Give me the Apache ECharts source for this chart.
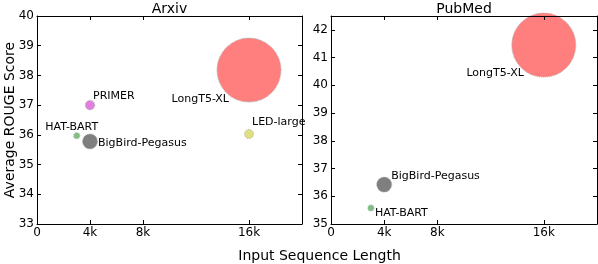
<!DOCTYPE html>
<html><head><meta charset="utf-8">
<script src="https://cdn.jsdelivr.net/npm/echarts@6/dist/echarts.min.js"></script>
<style>html,body{margin:0;padding:0;background:#fff}#c{width:598px;height:264px}</style>
</head><body><div id="c"></div>
<script>
// ---- data ----
const arxivModels = ['LongT5-XL', 'PRIMER', 'HAT-BART', 'BigBird-Pegasus', 'LED-large'];
const arxivLength = [16000, 4000, 3000, 4000, 16000];
const arxivRouge  = [38.18, 37.0, 35.97, 35.78, 36.03];
const arxivBubble = [100, 2.2, 0.9, 5.5, 2.0];

const pubmedModels = ['LongT5-XL', 'BigBird-Pegasus', 'HAT-BART'];
const pubmedLength = [16000, 4000, 3000];
const pubmedRouge  = [41.45, 36.42, 35.58];
const pubmedBubble = [100, 5.5, 0.9];

const xTickValues = [0, 4000, 8000, 16000];
const xTickLabels = ['0', '4k', '8k', '16k'];
const panelTitles = ['Arxiv', 'PubMed'];
const xTitle = 'Input Sequence Length';
const yTitle = 'Average ROUGE Score';

// ---- styles ----
const FONT = 'DejaVu Sans';
const modelColor = {
  'LongT5-XL': '#ff7f7f', 'PRIMER': '#df7fdf', 'HAT-BART': '#7fbf7f',
  'BigBird-Pegasus': '#7f7f7f', 'LED-large': '#dfdf7f'
};
const labelStyleArxiv = {
  'LongT5-XL': {align: 'right', offset: [-20, 29]},
  'PRIMER': {align: 'left', offset: [3, -9]},
  'HAT-BART': {align: 'center', offset: [-5, -9]},
  'BigBird-Pegasus': {align: 'left', offset: [8, 1.5]},
  'LED-large': {align: 'left', offset: [3, -12]}
};
const labelStylePubmed = {
  'LongT5-XL': {align: 'right', offset: [-20, 28]},
  'BigBird-Pegasus': {align: 'left', offset: [7, -8]},
  'HAT-BART': {align: 'left', offset: [4, 5]}
};
const bubbleDiameter = v => 6.4 * Math.sqrt(v);

function buildData(models, xs, ys, bs, lstyle) {
  return models.map((m, i) => ({
    name: m,
    value: [xs[i], ys[i], bs[i]],
    symbolSize: bubbleDiameter(bs[i]),
    itemStyle: {color: modelColor[m], opacity: 1, borderColor: '#b0b0b0', borderWidth: 1, borderType: 'dotted'},
    label: {show: true, formatter: m, position: 'inside', align: lstyle[m].align,
            verticalAlign: 'middle', offset: lstyle[m].offset,
            color: '#000', fontFamily: FONT, fontSize: 11}
  }));
}

const grids = [
  {left: 37, top: 16, width: 265, height: 208},
  {left: 331, top: 16, width: 266, height: 208}
];
const yRanges = [[33, 40], [35, 42.5]];

const xAxes = [], yAxes = [];
grids.forEach((g, gi) => {
  ['bottom', 'top'].forEach(pos => {
    xAxes.push({
      type: 'value', gridIndex: gi, position: pos, min: 0, max: 20000, interval: 4000, z: 5,
      axisLine: {show: true, onZero: false, lineStyle: {color: '#000', width: 1}},
      axisTick: {show: true, inside: true, length: 4, customValues: xTickValues, lineStyle: {color: '#000'}},
      axisLabel: pos === 'bottom' ? {show: true, customValues: xTickValues, margin: 3,
        formatter: v => xTickLabels[xTickValues.indexOf(v)] || '',
        color: '#000', fontFamily: FONT, fontSize: 12} : {show: false},
      splitLine: {show: false}
    });
  });
  ['left', 'right'].forEach(pos => {
    yAxes.push({
      type: 'value', gridIndex: gi, position: pos, min: yRanges[gi][0], max: yRanges[gi][1], interval: 1, z: 5,
      axisLine: {show: true, onZero: false, lineStyle: {color: '#000', width: 1}},
      axisTick: {show: true, inside: true, length: 4, lineStyle: {color: '#000'}},
      axisLabel: pos === 'left' ? {show: true, margin: 3, showMaxLabel: Number.isInteger(yRanges[gi][1]),
        formatter: v => Number.isInteger(v) ? String(v) : '',
        color: '#000', fontFamily: FONT, fontSize: 12} : {show: false},
      splitLine: {show: false}
    });
  });
});

const option = {
  animation: false,
  backgroundColor: '#fff',
  title: panelTitles.map((t, i) => ({
    text: t, left: grids[i].left + grids[i].width / 2, top: 2, textAlign: 'center', padding: 0,
    textStyle: {fontFamily: FONT, fontSize: 14, fontWeight: 'normal', color: '#000'}
  })),
  grid: grids,
  xAxis: xAxes,
  yAxis: yAxes,
  series: [
    {type: 'scatter', xAxisIndex: 0, yAxisIndex: 0, clip: false,
     data: buildData(arxivModels, arxivLength, arxivRouge, arxivBubble, labelStyleArxiv)},
    {type: 'scatter', xAxisIndex: 2, yAxisIndex: 2, clip: false,
     data: buildData(pubmedModels, pubmedLength, pubmedRouge, pubmedBubble, labelStylePubmed)}
  ],
  graphic: [
    {type: 'text', x: 319.5, y: 256, style: {text: xTitle, fontFamily: FONT, fontSize: 14, fill: '#000', align: 'center', verticalAlign: 'middle'}},
    {type: 'text', x: 10, y: 120, rotation: Math.PI / 2, style: {text: yTitle, fontFamily: FONT, fontSize: 14, fill: '#000', align: 'center', verticalAlign: 'middle'}}
  ]
};
const chart = echarts.init(document.getElementById('c'), null, {renderer: 'canvas'});
chart.setOption(option);
</script></body></html>
